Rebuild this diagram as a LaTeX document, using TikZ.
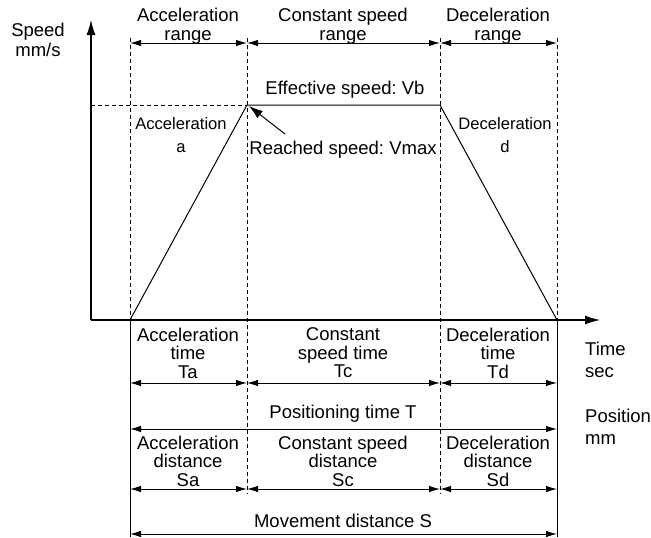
\documentclass[tikz,border=0pt]{standalone}
\usepackage{fontspec}
\setmainfont{Liberation Sans}
\usetikzlibrary{arrows.meta}
\frenchspacing

\tikzset{
  lbl/.style={align=center, inner sep=0pt, font=\fontsize{18.5}{18.5}\selectfont},
  smalllbl/.style={align=center, inner sep=0pt, font=\fontsize{16.6}{16.6}\selectfont},
  guide/.style={line width=1pt, dash pattern=on 4pt off 3pt},
  profile/.style={line width=1pt},
  axis/.style={line width=1.1pt, -{Latex[length=15pt,width=9pt]}},
  dim/.style={line width=1pt, {Latex[length=11pt,width=6.5pt]}-{Latex[length=11pt,width=6.5pt]}},
  pointer/.style={line width=1pt, -{Latex[length=14pt,width=9pt]}},
}

\begin{document}
\begin{tikzpicture}[x=1pt, y=-1pt]
  \useasboundingbox (0,0) rectangle (651,538);
  \def\yaxis{320}
  \def\yvb{105}

  % axes and speed profile
  \coordinate (O) at (91,\yaxis);
  \coordinate (ytip) at (91,20);
  \coordinate (xtip) at (600,\yaxis);
  \coordinate (vb) at (91,\yvb);
  \coordinate (p0) at (130,\yaxis);
  \coordinate (p1) at (247,\yvb);
  \coordinate (p2) at (440,\yvb);
  \coordinate (p3) at (557,\yaxis);

  \draw[axis] (O) -- (ytip);
  \draw[axis] (O) -- (xtip);
  \draw[guide] (vb) -- (p1);
  \draw[profile] (p0) -- (p1) -- (p2) -- (p3);

  % phase boundaries
  \foreach \x/\n/\b in {130/0/320, 247/1/494, 440/2/494, 557/3/320} {
    \coordinate (g\n top) at (\x,38);
    \coordinate (g\n bot) at (\x,\b);
    \draw[guide] (g\n top) -- (g\n bot);
  }
  \coordinate (e0) at (130,537);
  \coordinate (e3) at (557,537);
  \draw[profile] (p0) -- (e0);
  \draw[profile] (p3) -- (e3);

  % dimension rows split by phase
  \foreach \r/\y in {r/43, t/383, s/489} {
    \foreach \x [count=\i from 0] in {130,247,440,557}
      \coordinate (\r\i) at (\x,\y);
    \draw[dim] (\r0) -- (\r1);
    \draw[dim] (\r1) -- (\r2);
    \draw[dim] (\r2) -- (\r3);
  }
  % full length rows
  \coordinate (T0) at (130,429);
  \coordinate (T1) at (557,429);
  \coordinate (S0) at (130,534);
  \coordinate (S1) at (557,534);
  \draw[dim] (T0) -- (T1);
  \draw[dim] (S0) -- (S1);

  % labels
  \node[lbl] (speed) at (38,40) {Speed\\[2pt]mm/s};
  \node[lbl] (accrange) at (188,26) {Acceleration\\range};
  \node[lbl] (conrange) at (343,26) {Constant speed\\range};
  \node[lbl] (decrange) at (498,26) {Deceleration\\range};
  \node[lbl] (vbtext) at (345,90) {Effective speed: Vb};
  \node[lbl] (vmax) at (343,150) {Reached speed: Vmax};
  \node[smalllbl] (acc) at (181,135) {Acceleration\\[7pt]a};
  \node[smalllbl] (dec) at (505,135) {Deceleration\\[7pt]d};

  \coordinate (vmaxtail) at (285,134);
  \coordinate (vmaxtip) at (249,106);
  \draw[pointer] (vmaxtail) -- (vmaxtip);

  \node[lbl] (ta) at (188,353) {Acceleration\\time\\Ta};
  \node[lbl] (tc) at (343,353) {Constant\\speed time\\Tc};
  \node[lbl] (td) at (498,353) {Deceleration\\time\\Td};
  \node[lbl, align=left, anchor=west] (time) at (585,360) {Time\\[3.5pt]sec};
  \node[lbl, align=left, anchor=west] (pos) at (585,427) {Position\\[3.5pt]mm};
  \node[lbl] (ttot) at (343,414) {Positioning time T};

  \node[lbl] (sa) at (188,461) {Acceleration\\distance\\Sa};
  \node[lbl] (sc) at (343,461) {Constant speed\\distance\\Sc};
  \node[lbl] (sd) at (498,461) {Deceleration\\distance\\Sd};
  \node[lbl] (stot) at (343,521) {Movement distance S};
\end{tikzpicture}
\end{document}
